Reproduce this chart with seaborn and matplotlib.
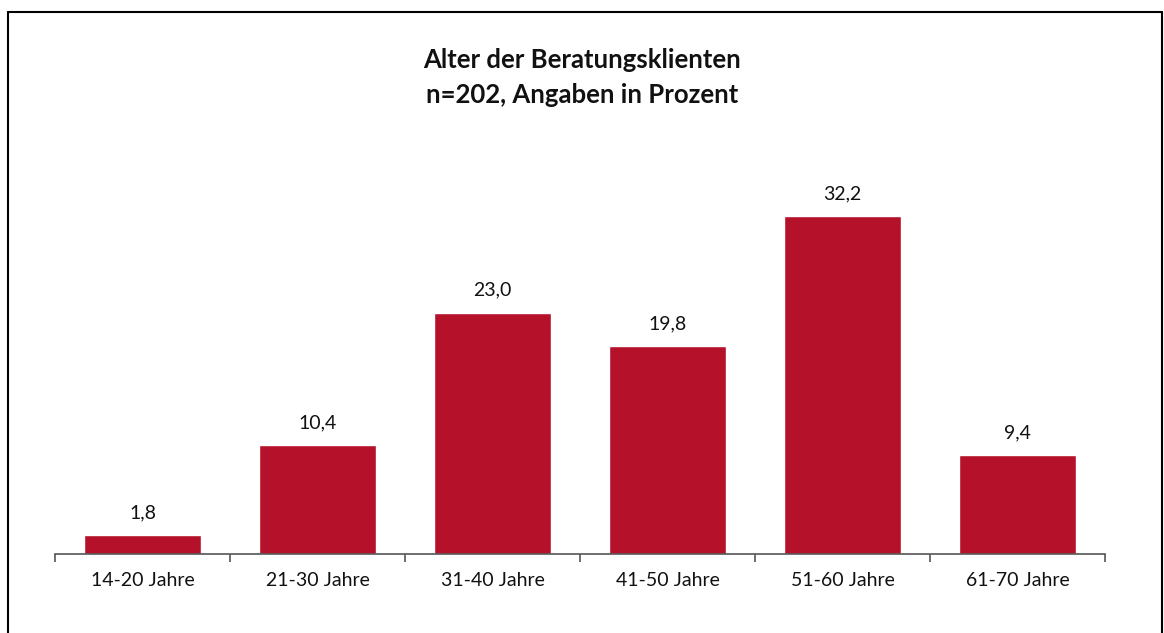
import matplotlib
matplotlib.use("Agg")
import matplotlib.pyplot as plt
import seaborn as sns
import numpy as np
from matplotlib.lines import Line2D

categories = ["14-20 Jahre", "21-30 Jahre", "31-40 Jahre", "41-50 Jahre", "51-60 Jahre", "61-70 Jahre"]
values = [1.8, 10.4, 23.0, 19.8, 32.2, 9.4]
labels = ["1,8", "10,4", "23,0", "19,8", "32,2", "9,4"]

sns.set_style("white")
plt.rcParams['font.family'] = ['Lato', 'DejaVu Sans']

fig = plt.figure(figsize=(11.64, 6.33), dpi=100)
ax = fig.add_axes([55/1164, 1-554/633, 1050/1164, 378/633])

sns.barplot(x=categories, y=values, color="#B5112B", width=0.67, ax=ax, saturation=1)

for i, (v, t) in enumerate(zip(values, labels)):
    ax.annotate(t, (i, v), xytext=(0, 10), textcoords="offset points",
                ha="center", va="bottom", fontsize=14, color="#111111")

ax.set_xlim(-0.5, len(categories) - 0.5)
ax.set_ylim(0, 36)
ax.set_yticks([])
for s in ["top", "right", "left"]:
    ax.spines[s].set_visible(False)
ax.spines["bottom"].set_color("#555555")
ax.spines["bottom"].set_linewidth(1.2)
ax.tick_params(axis="x", which="major", bottom=False, length=0, pad=13, labelsize=14, labelcolor="#111111")
ax.set_xticks(np.arange(-0.5, len(categories)), minor=True)
ax.tick_params(axis="x", which="minor", bottom=True, length=6, width=1.2, color="#555555", direction="out")

fig.text(0.5, 1-60/633, "Alter der Beratungsklienten", ha="center", va="center",
         fontsize=18.5, fontweight="bold", color="#111111")
fig.text(0.5, 1-95/633, "n=202, Angaben in Prozent", ha="center", va="center",
         fontsize=18.5, fontweight="bold", color="#111111")

# outer frame
fx0, fx1, fy1 = 8/1164, 1162/1164, 1-12/633
fig.add_artist(Line2D([fx0, fx0], [0, fy1], color="black", lw=1.5, transform=fig.transFigure))
fig.add_artist(Line2D([fx0, fx1], [fy1, fy1], color="black", lw=1.5, transform=fig.transFigure))
fig.add_artist(Line2D([fx1, fx1], [0, fy1], color="black", lw=1.5, transform=fig.transFigure))

fig.savefig("out.png", dpi=100)
